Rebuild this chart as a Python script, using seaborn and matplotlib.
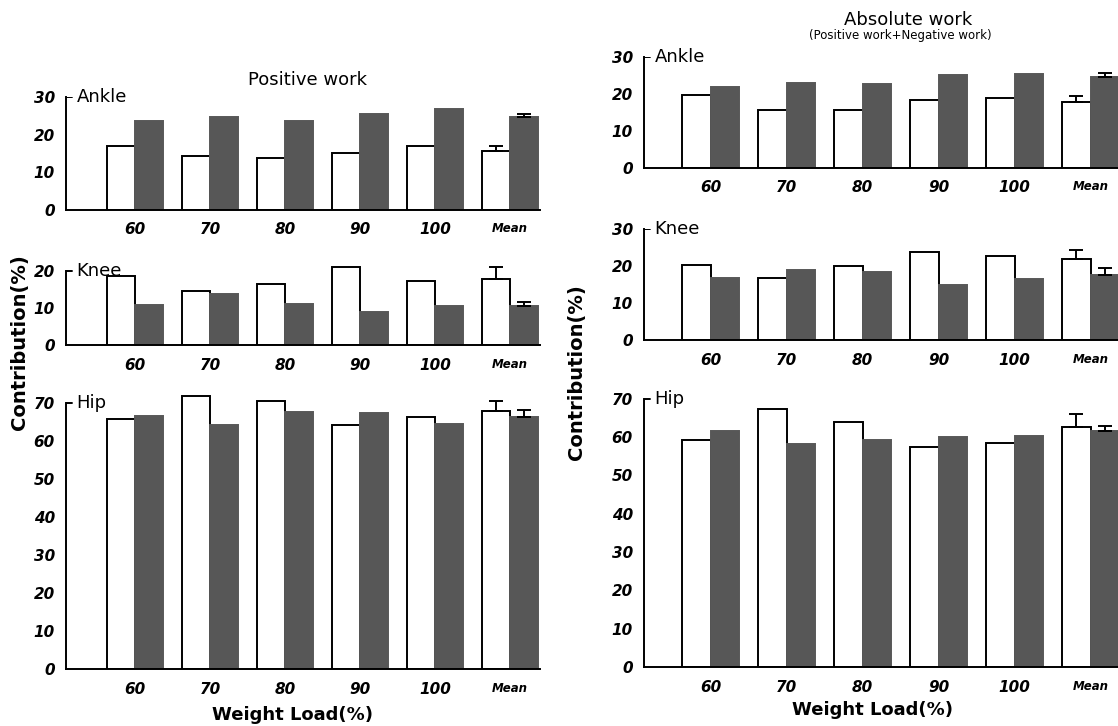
import numpy as np
import pandas as pd
import matplotlib
matplotlib.use("Agg")
import matplotlib.pyplot as plt
import seaborn as sns
from matplotlib import transforms

# -----------------------------
# Data
# -----------------------------
loads = ["60", "70", "80", "90", "100", "Mean"]

# Positive work (left column)
pos_ankle_white = [17.1, 14.3, 13.7, 15.2, 17.0, 15.6]
pos_ankle_dark = [23.5, 24.7, 23.5, 25.6, 26.8, 24.6]
pos_knee_white = [18.6, 14.7, 16.6, 21.0, 17.4, 17.9]
pos_knee_dark = [10.7, 13.8, 11.1, 8.8, 10.5, 10.5]
pos_hip_white = [65.7, 71.8, 70.6, 64.1, 66.3, 67.9]
pos_hip_dark = [66.7, 64.1, 67.7, 67.4, 64.4, 66.3]
pos_ankle_sd = [1.5, 0.8]
pos_knee_sd = [3.3, 1.2]
pos_hip_sd = [2.7, 1.8]

# Absolute work (right column)
abs_ankle_white = [19.8, 15.8, 15.8, 18.5, 19.0, 17.8]
abs_ankle_dark = [22.0, 23.1, 22.7, 25.1, 25.5, 24.7]
abs_knee_white = [20.4, 16.8, 20.1, 23.8, 22.8, 22.0]
abs_knee_dark = [16.8, 18.9, 18.5, 15.0, 16.4, 17.5]
abs_hip_white = [59.2, 67.4, 64.0, 57.3, 58.5, 62.6]
abs_hip_dark = [61.5, 58.3, 59.1, 60.0, 60.2, 61.5]
abs_ankle_sd = [1.7, 1.0]
abs_knee_sd = [2.4, 1.9]
abs_hip_sd = [3.5, 1.5]

DARK = "#575757"
W, H = 1118, 726

sns.set_theme(style="white")
plt.rcParams["font.family"] = ["DejaVu Sans"]
plt.rcParams["text.color"] = "black"
plt.rcParams["xtick.color"] = "black"
plt.rcParams["ytick.color"] = "black"

fig = plt.figure(figsize=(W / 100, H / 100), dpi=100)


def rect(x0, x1, y_zero, y_top):
    # pixel box -> figure fraction
    return [x0 / W, 1 - y_zero / H, (x1 - x0) / W, (y_zero - y_top) / H]


def panel(box, xlim, white, dark, sd, ymax, top, ticks, name):
    ax = fig.add_axes(box)
    df = pd.DataFrame({
        "load": loads * 2,
        "value": white + dark,
        "kind": ["white"] * len(loads) + ["dark"] * len(loads),
    })
    sns.barplot(data=df, x="load", y="value", hue="kind",
                palette=["white", DARK], edgecolor="black", linewidth=1.4,
                width=0.75, errorbar=None, legend=False, ax=ax)
    for bar in ax.containers[1]:
        bar.set_edgecolor(DARK)
    # error bars on the Mean group only
    for cont, err in zip(ax.containers, sd):
        bar = cont[-1]
        ax.errorbar(bar.get_x() + bar.get_width() / 2, bar.get_height(),
                    yerr=[[0], [err]], fmt="none", ecolor="black",
                    elinewidth=1.4, capsize=5, capthick=1.4)
    ax.set_xlim(*xlim)
    ax.set_ylim(0, ymax)
    ax.set_yticks(ticks)
    ax.set_xlabel("")
    ax.set_ylabel("")
    for s in ["top", "right"]:
        ax.spines[s].set_visible(False)
    ax.spines["left"].set_bounds(0, top)
    for s in ["left", "bottom"]:
        ax.spines[s].set_linewidth(1.4)
        ax.spines[s].set_color("black")
    ax.axhline(top, xmin=0, xmax=0.012, color="black", lw=1.4)
    ax.tick_params(axis="y", direction="out", length=5, width=1.3, pad=3)
    ax.tick_params(axis="x", length=0, pad=9)
    for lab in ax.get_yticklabels():
        lab.set_fontsize(11)
        lab.set_fontweight("bold")
        lab.set_fontstyle("italic")
    for lab in ax.get_xticklabels():
        lab.set_fontweight("bold")
        lab.set_fontstyle("italic")
        lab.set_fontsize(8.5 if lab.get_text() == "Mean" else 11)
    trans = transforms.blended_transform_factory(ax.transAxes, ax.transData)
    ax.text(0.022, top, name, transform=trans, fontsize=13, va="center", ha="left")
    ax.patch.set_alpha(0)
    return ax


left_x = (-0.92, 5.4)
right_x = (-0.88, 5.4)

panel(rect(66, 540, 210, 97), left_x, pos_ankle_white, pos_ankle_dark,
      pos_ankle_sd, 30, 30, [0, 10, 20, 30], "Ankle")
panel(rect(66, 540, 345, 265.5), left_x, pos_knee_white, pos_knee_dark,
      pos_knee_sd, 21.5, 20, [0, 10, 20], "Knee")
panel(rect(66, 540, 669, 395.4), left_x, pos_hip_white, pos_hip_dark,
      pos_hip_sd, 72, 70, list(range(0, 71, 10)), "Hip")

panel(rect(644, 1121, 168, 57), right_x, abs_ankle_white, abs_ankle_dark,
      abs_ankle_sd, 30, 30, [0, 10, 20, 30], "Ankle")
panel(rect(644, 1121, 340, 229), right_x, abs_knee_white, abs_knee_dark,
      abs_knee_sd, 30, 30, [0, 10, 20, 30], "Knee")
panel(rect(644, 1121, 667, 391), right_x, abs_hip_white, abs_hip_dark,
      abs_hip_sd, 72, 70, list(range(0, 71, 10)), "Hip")

# titles and axis labels
fig.text(307 / W, 1 - 80 / H, "Positive work", fontsize=13, ha="center", va="center")
fig.text(908 / W, 1 - 20 / H, "Absolute work", fontsize=13, ha="center", va="center")
fig.text(900 / W, 1 - 36 / H, "(Positive work+Negative work)", fontsize=8.5,
         ha="center", va="center")
fig.text(293 / W, 1 - 715 / H, "Weight Load(%)", fontsize=13, fontweight="bold",
         ha="center", va="center")
fig.text(872 / W, 1 - 710 / H, "Weight Load(%)", fontsize=13, fontweight="bold",
         ha="center", va="center")
fig.text(20 / W, 1 - 342 / H, "Contribution(%)", fontsize=14, fontweight="bold",
         rotation=90, ha="center", va="center")
fig.text(577 / W, 1 - 372 / H, "Contribution(%)", fontsize=14, fontweight="bold",
         rotation=90, ha="center", va="center")

fig.savefig("out.png", dpi=100)
